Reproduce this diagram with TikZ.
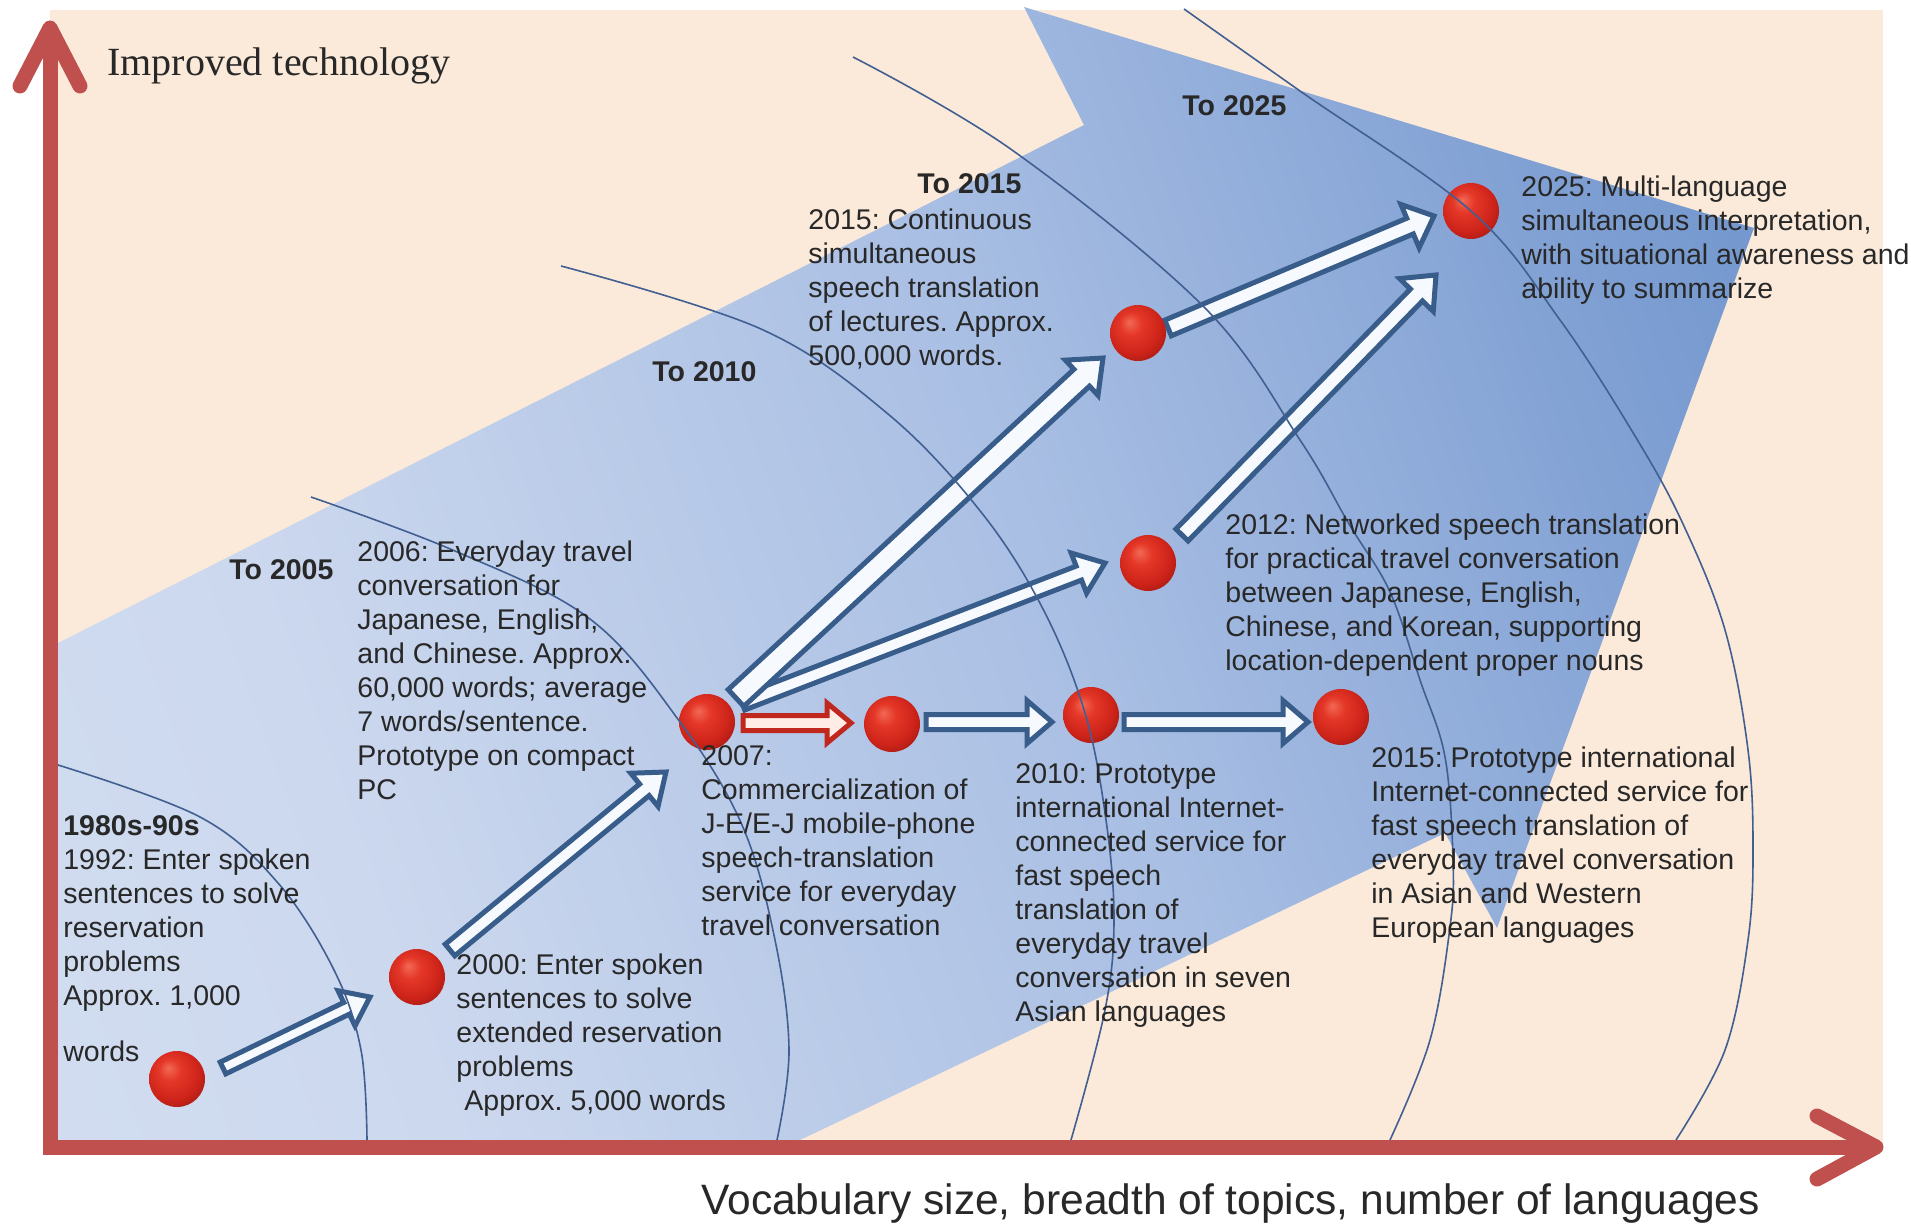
\documentclass[tikz,border=0pt]{standalone}
\usepackage{fontspec}
\setmainfont{Liberation Sans}
\newfontfamily\serifft{Liberation Serif}
\usetikzlibrary{calc}
\frenchspacing
\definecolor{peach}{RGB}{251,234,218}
\definecolor{axisred}{RGB}{192,80,77}
\definecolor{arrblue}{RGB}{56,93,138}
\definecolor{arcblue}{RGB}{65,95,145}
\definecolor{txt}{RGB}{40,40,40}
\definecolor{bl1}{RGB}{217,227,243}
\definecolor{bl2}{RGB}{204,216,238}
\definecolor{bl3}{RGB}{168,190,227}
\definecolor{bl4}{RGB}{125,158,210}
\definecolor{bl5}{RGB}{95,138,198}
\definecolor{bl6}{RGB}{76,121,190}
\definecolor{rb1}{RGB}{242,105,85}
\definecolor{rb2}{RGB}{228,55,40}
\definecolor{rb3}{RGB}{205,35,25}
\definecolor{rb4}{RGB}{150,25,20}
\definecolor{redline}{RGB}{192,40,30}
\definecolor{redfill}{RGB}{255,236,230}
\definecolor{arrfill}{RGB}{246,249,253}
\pgfdeclarehorizontalshading{bigblue}{100bp}{color(0bp)=(bl1); color(30bp)=(bl2); color(55bp)=(bl3); color(75bp)=(bl4); color(90bp)=(bl5); color(100bp)=(bl6)}
\pgfdeclareradialshading{redball}{\pgfpoint{-8bp}{10bp}}{color(0bp)=(rb1); color(10bp)=(rb2); color(24bp)=(rb3); color(36bp)=(rb4); color(50bp)=(rb4)}
\newcommand{\blockarrow}[6]{%
  \path let \p1=(#2), \p2=(#3) in
    \pgfextra{\pgfmathsetmacro\tmpa{atan2(\y2-\y1,\x2-\x1)}\global\let\baang\tmpa
      \pgfmathsetmacro\tmpb{veclen(\x2-\x1,\y2-\y1)}\global\let\balen\tmpb
      \xdef\bax{\x1}\xdef\bay{\y1}};
  \draw[#1, shift={(\bax,\bay)}, rotate=\baang]
    (0pt,{-#4*0.5pt}) -- ({\balen pt-#6*0.5pt},{-#4*0.5pt}) -- ({\balen pt-#6*0.5pt},{-#5*0.5pt})
    -- (\balen pt,0pt) -- ({\balen pt-#6*0.5pt},{#5*0.5pt}) -- ({\balen pt-#6*0.5pt},{#4*0.5pt})
    -- (0pt,{#4*0.5pt}) -- cycle;
}
\begin{document}
\begin{tikzpicture}[x=0.5pt,y=-0.5pt,
  body/.style={font=\fontsize{14.25pt}{17pt}\selectfont, text=txt, inner sep=0pt, align=left, anchor=north west},
  lbl/.style={font=\fontsize{14.25pt}{17pt}\selectfont\bfseries, text=txt, inner sep=0pt, anchor=base west},
  ball/.style={circle, minimum size=28pt, inner sep=0pt, shade, shading=redball},
  barr/.style={draw=arrblue, line width=2.5pt, fill=arrfill, line join=miter},
  rarr/.style={draw=redline, line width=2.5pt, fill=redfill, line join=miter},
  arcline/.style={draw=arcblue, line width=0.8pt},
  axisline/.style={draw=axisred, line width=7.5pt}]
\useasboundingbox (0,0) rectangle (1911,1224);
\fill[white] (0,0) rectangle (1911,1224);
% background
\fill[peach] (50,10) rectangle (1883,1147);
% big blue arrow
\shade[shading=bigblue, shading angle=20] (58,643) -- (1084,125) -- (1024,7) -- (1754,228) -- (1497,928) -- (1445,833) -- (800,1140) -- (58,1140) -- cycle;
% axes
\draw[axisline] (50,28) -- (50,1147) -- (1876,1147);
\draw[axisline, line cap=round, line join=round] (20,86) -- (50,28) -- (80,86);
\draw[axisline, line cap=round, line join=round] (1817,1116) -- (1876,1147) -- (1817,1179);
% arrow ends
\coordinate (a1s) at (223,1068); \coordinate (a1e) at (370,997);
\coordinate (a2s) at (450,950);  \coordinate (a2e) at (666,772);
\coordinate (a3s) at (743,723);  \coordinate (a3e) at (851,723);
\coordinate (a4s) at (926,722);  \coordinate (a4e) at (1052,722);
\coordinate (a5s) at (1124,722); \coordinate (a5e) at (1308,722);
\coordinate (a6s) at (742,703);  \coordinate (a6e) at (1105,563);
\coordinate (a7s) at (736,698);  \coordinate (a7e) at (1103,358);
\coordinate (a8s) at (1168,328); \coordinate (a8e) at (1434,216);
\coordinate (a9s) at (1182,535); \coordinate (a9e) at (1436,275);
% block arrows
\blockarrow{barr}{a1s}{a1e}{6.5}{19.5}{26}
\blockarrow{barr}{a2s}{a2e}{7.5}{21.5}{28}
\blockarrow{barr}{a6s}{a6e}{7.5}{21.5}{28}
\blockarrow{barr}{a7s}{a7e}{11.5}{24}{29}
\blockarrow{rarr}{a3s}{a3e}{7.5}{20}{24}
\blockarrow{barr}{a4s}{a4e}{7.5}{21.5}{25}
\blockarrow{barr}{a5s}{a5e}{7.5}{21.5}{25}
\blockarrow{barr}{a8s}{a8e}{8.5}{23.5}{26}
\blockarrow{barr}{a9s}{a9e}{8.5}{23.5}{28}
% balls
\node[ball] (b1) at (177,1079) {};
\node[ball] (b2) at (417,977) {};
\node[ball] (b3) at (707,722) {};
\node[ball] (b4) at (892,724) {};
\node[ball] (b5) at (1091,715) {};
\node[ball] (b6) at (1341,717) {};
\node[ball] (b7) at (1148,563) {};
\node[ball] (b8) at (1138,333) {};
\node[ball] (b9) at (1471,211) {};
% arcs
\draw[arcline] plot[smooth, tension=0.6] coordinates {(58,765) (200,817) (278,883) (334,970) (361,1050) (367,1140)};
\draw[arcline] plot[smooth, tension=0.6] coordinates {(311,497) (455,551) (590,619) (680,722) (742,825) (775,940) (789,1050) (777,1140)};
\draw[arcline] plot[smooth, tension=0.6] coordinates {(561,266) (761,329) (888,414) (981,512) (1043,609) (1085,713) (1106,820) (1114,920) (1105,1010) (1071,1140)};
\draw[arcline] plot[smooth, tension=0.6] coordinates {(853,57) (1012,150) (1204,307) (1300,440) (1349,524) (1390,592) (1420,680) (1445,757) (1453,860) (1450,927) (1430,1040) (1390,1140)};
\draw[arcline] plot[smooth, tension=0.6] coordinates {(1184,9) (1300,91) (1471,211) (1560,320) (1635,436) (1683,524) (1725,630) (1748,750) (1753,850) (1748,940) (1725,1050) (1676,1140)};
% labels
\node[font=\serifft\fontsize{20pt}{24pt}\selectfont, text=txt, anchor=base west, inner sep=0pt] (ylab) at (107,76) {Improved technology};
\node[font=\fontsize{21.25pt}{25pt}\selectfont, text=txt, anchor=base west, inner sep=0pt] (xlab) at (701,1214) {Vocabulary size, breadth of topics, number of languages};
\node[lbl] (l05) at (229,580) {To 2005};
\node[lbl] (l10) at (652,382) {To 2010};
\node[lbl] (l15) at (917,194) {To 2015};
\node[lbl] (l25) at (1182,116) {To 2025};
\node[body] (tA) at (63,815) {\textbf{1980s-90s}\\1992: Enter spoken\\sentences to solve\\reservation\\problems\\Approx. 1,000\\[11pt]words};
\node[body] (tB) at (456,953) {2000: Enter spoken\\sentences to solve\\extended reservation\\problems\\\hspace*{4pt}Approx. 5,000 words};
\node[body] (tC) at (357,540) {2006: Everyday travel\\conversation for\\Japanese, English,\\and Chinese. Approx.\\60,000 words; average\\7 words/sentence.\\Prototype on compact\\PC};
\node[body] (tD) at (701,745) {2007:\\Commercialization of\\J-E/E-J mobile-phone\\speech-translation\\service for everyday\\travel conversation};
\node[body] (tE) at (1015,763) {2010: Prototype\\international Internet-\\connected service for\\fast speech\\translation of\\everyday travel\\conversation in seven\\Asian languages};
\node[body] (tF) at (1225,513) {2012: Networked speech translation\\for practical travel conversation\\between Japanese, English,\\Chinese, and Korean, supporting\\location-dependent proper nouns};
\node[body] (tG) at (1371,746) {2015: Prototype international\\Internet-connected service for\\fast speech translation of\\everyday travel conversation\\in Asian and Western\\European languages};
\node[body] (tH) at (808,208) {2015: Continuous\\simultaneous\\speech translation\\of lectures. Approx.\\500,000 words.};
\node[body] (tI) at (1521,175) {2025: Multi-language\\simultaneous interpretation,\\with situational awareness and\\ability to summarize};
\end{tikzpicture}
\end{document}
